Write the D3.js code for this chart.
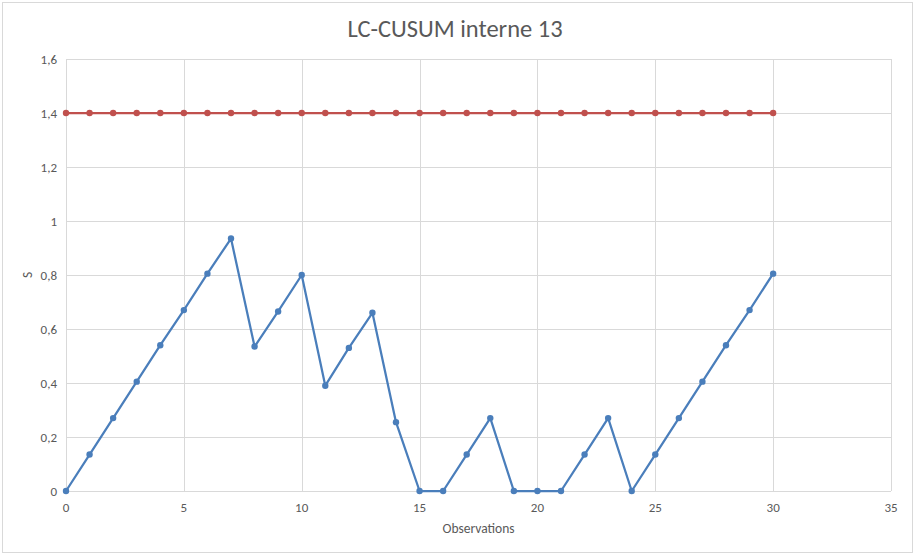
<!DOCTYPE html>
<html><head><meta charset="utf-8">
<script src="https://cdn.jsdelivr.net/npm/d3@7"></script>
<style>body{margin:0;background:#fff}svg{display:block}</style>
</head><body>
<script>
const obs = [0,1,2,3,4,5,6,7,8,9,10,11,12,13,14,15,16,17,18,19,20,21,22,23,24,25,26,27,28,29,30];
const sValues = [0,0.135,0.27,0.405,0.54,0.67,0.805,0.935,0.535,0.665,0.80,0.39,0.53,0.66,0.255,0,0,0.135,0.27,0,0,0,0.135,0.27,0,0.135,0.27,0.405,0.54,0.67,0.805];
const limitValues = obs.map(() => 1.4);
const xTicks = [0,5,10,15,20,25,30,35];
const yTicks = [0,0.2,0.4,0.6,0.8,1,1.2,1.4,1.6];

const W = 914, H = 554;
const svg = d3.select("body").append("svg").attr("width", W).attr("height", H);
svg.append("rect").attr("x",2.5).attr("y",2.5).attr("width",910).attr("height",550)
  .attr("fill","#fff").attr("stroke","#d9d9d9");

const x = d3.scaleLinear().domain([0,35]).range([66,891]);
const y = d3.scaleLinear().domain([0,1.6]).range([491,59]);
const font = "Calibri, Carlito, 'Liberation Sans Narrow', 'Open Sans', sans-serif";
const fmt = d => String(d).replace(".", ",");

// gridlines
svg.append("g").selectAll("line").data(yTicks).join("line")
  .attr("x1",x(0)).attr("x2",x(35)).attr("y1",d=>Math.round(y(d))+0.5).attr("y2",d=>Math.round(y(d))+0.5)
  .attr("stroke","#d9d9d9");
svg.append("g").selectAll("line").data(xTicks).join("line")
  .attr("y1",y(0)).attr("y2",y(1.6)).attr("x1",d=>Math.round(x(d))+0.5).attr("x2",d=>Math.round(x(d))+0.5)
  .attr("stroke","#d9d9d9");

// tick labels
svg.append("g").selectAll("text").data(yTicks).join("text")
  .attr("x",57).attr("y",d=>y(d)+4.5).attr("text-anchor","end")
  .attr("font-family",font).attr("font-size",13).attr("fill","#595959").text(fmt);
svg.append("g").selectAll("text").data(xTicks).join("text")
  .attr("x",d=>x(d)).attr("y",512).attr("text-anchor","middle")
  .attr("font-family",font).attr("font-size",13).attr("fill","#595959").text(fmt);

// axis titles
svg.append("text").attr("x",x(17.5)).attr("y",533).attr("text-anchor","middle")
  .attr("font-family",font).attr("font-size",13.5).attr("fill","#595959").text("Observations");
svg.append("text").attr("transform","translate(32,275) rotate(-90)").attr("text-anchor","middle")
  .attr("font-family",font).attr("font-size",13.5).attr("fill","#595959").text("S");
svg.append("text").attr("x",455).attr("y",37).attr("text-anchor","middle")
  .attr("font-family",font).attr("font-size",24.5).attr("fill","#595959").text("LC-CUSUM interne 13");

const line = d3.line().x((d,i)=>x(obs[i])).y(d=>y(d));
function series(vals, color){
  svg.append("path").datum(vals).attr("d",line).attr("fill","none")
    .attr("stroke",color).attr("stroke-width",2.25).attr("stroke-linejoin","round");
  svg.append("g").selectAll("circle").data(vals).join("circle")
    .attr("cx",(d,i)=>x(obs[i])).attr("cy",d=>y(d)).attr("r",3.2).attr("fill",color);
}
series(limitValues, "#C0504D");
series(sValues, "#4A7EBB");
</script>
</body></html>
